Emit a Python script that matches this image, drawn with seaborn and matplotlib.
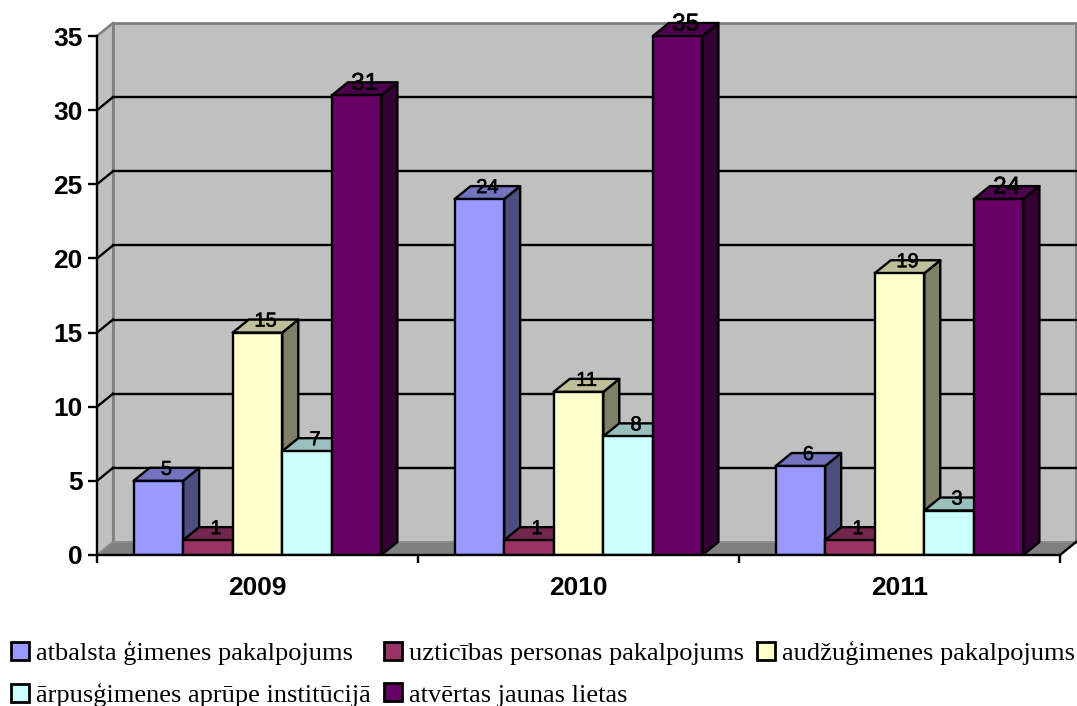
import numpy as np
import pandas as pd
import seaborn as sns
import matplotlib.pyplot as plt
import matplotlib.patheffects as pe
from matplotlib.colors import to_rgb
from matplotlib.patches import Polygon

years = ['2009', '2010', '2011']
series = ['atbalsta ģimenes pakalpojums', 'uzticības personas pakalpojums',
          'audžuģimenes pakalpojums', 'ārpusģimenes aprūpe institūcijā',
          'atvērtas jaunas lietas']
atbalsta = [5, 24, 6]
uzticibas = [1, 1, 1]
audzu = [15, 11, 19]
arpus = [7, 8, 3]
atvertas = [31, 35, 24]
colors = ['#9999FF', '#993366', '#FFFFCC', '#CCFFFF', '#660066']

W, H = 1077, 706
# depth of the fake 3d box, in data units
depth_x = 16 / 321
depth_y = 13 / (519 / 35)
LW = 1.7

if __name__ == '__main__':
    df = pd.DataFrame({'year': np.tile(years, 5),
                       'series': np.repeat(series, 3),
                       'value': atbalsta + uzticibas + audzu + arpus + atvertas})

    fig = plt.figure(figsize=(W / 100, H / 100), dpi=100)
    ax = fig.add_axes([97 / W, (H - 555) / H, 963 / W, 519 / H])
    ax.set_facecolor('none')

    sns.barplot(data=df, x='year', y='value', hue='series', hue_order=series,
                palette=colors, saturation=1, width=0.772, gap=0,
                edgecolor='black', linewidth=LW, ax=ax)
    ax.set_xlim(-0.5, 2.5)
    ax.set_ylim(0, 35)
    x0, x1 = ax.get_xlim()
    y1 = ax.get_ylim()[1]

    # walls and floor
    ax.add_patch(Polygon([(x0, 0), (x0 + depth_x, depth_y), (x0 + depth_x, y1 + depth_y), (x0, y1)],
                         fc='#C0C0C0', ec='#808080', lw=1.5, clip_on=False, zorder=0.1, joinstyle='round'))
    ax.add_patch(Polygon([(x0 + depth_x, depth_y), (x1 + depth_x, depth_y),
                          (x1 + depth_x, y1 + depth_y), (x0 + depth_x, y1 + depth_y)],
                         fc='#C0C0C0', ec='#808080', lw=2, clip_on=False, zorder=0.1))
    ax.add_patch(Polygon([(x0, 0), (x1, 0), (x1 + depth_x, depth_y), (x0 + depth_x, depth_y)],
                         fc='#808080', ec='#909090', lw=1, clip_on=False, zorder=0.2, joinstyle='round'))
    ax.plot([x1, x1 + depth_x], [0, depth_y], color='black', lw=LW, clip_on=False, zorder=0.3)

    # gridlines on back wall
    for v in ax.get_yticks():
        if 0 < v < y1:
            ax.plot([x0 + depth_x, x1 + depth_x], [v + depth_y, v + depth_y],
                    color='black', lw=LW, clip_on=False, zorder=0.5)
        if v > 0:
            ax.plot([x0, x0 + depth_x], [v, v + depth_y], color='black' if v < y1 else '#808080',
                    lw=LW, clip_on=False, zorder=0.5)

    # side and top faces for every bar, left to right
    for h, cont in enumerate(ax.containers):
        rgb = np.array(to_rgb(colors[h]))
        for g, bar in enumerate(cont):
            left = bar.get_x()
            right = left + bar.get_width()
            top = bar.get_height()
            z = 1 + g * 10 + h
            ax.add_patch(Polygon([(right, 0), (right + depth_x, depth_y),
                                  (right + depth_x, top + depth_y), (right, top)],
                                 fc=rgb * 0.5, ec='black', lw=LW, clip_on=False, zorder=z,
                                 joinstyle='round'))
            ax.add_patch(Polygon([(left, top), (right, top),
                                  (right + depth_x, top + depth_y), (left + depth_x, top + depth_y)],
                                 fc=rgb * 0.75, ec='black', lw=LW, clip_on=False, zorder=z,
                                 joinstyle='round'))
            bar.set_zorder(z + 0.5)
            ax.text(left + bar.get_width() / 2 + depth_x / 2, top + depth_y - 0.1, f'{top:.0f}',
                    ha='center', va='center', fontsize=17.5 if h == 4 else 14.5,
                    family='Liberation Sans', color='black', zorder=100, clip_on=False,
                    path_effects=[pe.withStroke(linewidth=0.4, foreground='black')])

    # axes
    sns.despine(ax=ax, top=True, right=True)
    for s in ['left', 'bottom']:
        ax.spines[s].set_linewidth(LW)
        ax.spines[s].set_zorder(60)
    ax.set_xlabel('')
    ax.set_ylabel('')
    ax.set_xticks([-0.5, 0.5, 1.5, 2.5], labels=[])
    ax.set_xticks([0, 1, 2], labels=years, minor=True)
    ax.tick_params(axis='x', which='major', length=6, width=LW)
    ax.tick_params(axis='x', which='minor', length=0, pad=15)
    ax.tick_params(axis='y', length=6.5, width=LW, pad=4)
    for t in ax.get_xticklabels(minor=True) + ax.get_yticklabels():
        t.set_fontsize(19)
        t.set_fontweight('bold')
        t.set_family('Liberation Sans')

    # legend
    handles, labels = ax.get_legend_handles_labels()
    ax.get_legend().remove()
    order = [0, 3, 1, 4, 2]
    leg = fig.legend([handles[i] for i in order], [labels[i] for i in order],
                     ncol=3, loc='lower left', bbox_to_anchor=(0, -12 / H), frameon=False,
                     prop={'family': 'Liberation Serif', 'size': 19},
                     handlelength=0.68, handleheight=0.68, handletextpad=0.27,
                     columnspacing=0.5, labelspacing=0.7, borderaxespad=0.1, borderpad=0.3)
    for p in leg.get_patches():
        p.set_linewidth(2)

    fig.savefig('out.png', dpi=100)
